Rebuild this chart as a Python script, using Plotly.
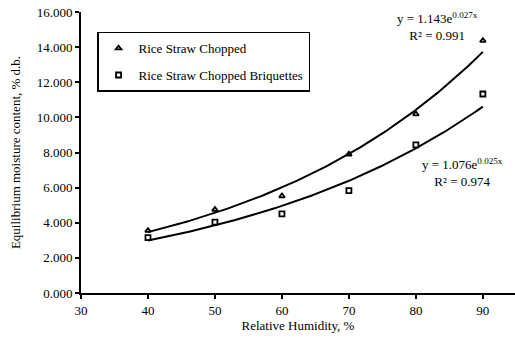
import numpy as np
import plotly.graph_objects as go

rh = [40, 50, 60, 70, 80, 90]
chopped = [3.55, 4.75, 5.52, 7.90, 10.19, 14.37]
briquettes = [3.15, 4.03, 4.50, 5.83, 8.43, 11.33]
series_names = ["Rice Straw Chopped", "Rice Straw Chopped Briquettes"]
eq_texts = ["y = 1.143e<sup>0.027x</sup><br>R² = 0.991", "y = 1.076e<sup>0.025x</sup><br>R² = 0.974"]

FONT = "Liberation Serif, Times New Roman, serif"

def expfit(x, y):
    b, ln_a = np.polyfit(np.array(x, float), np.log(np.array(y, float)), 1)
    xs = np.linspace(min(x), max(x), 120)
    return xs, np.exp(ln_a) * np.exp(b * xs)

fig = go.Figure()
for ys, name, sym, grp in [(chopped, series_names[0], "triangle-up-open", "a"),
                           (briquettes, series_names[1], "square-open", "b")]:
    xs, yf = expfit(rh, ys)
    fig.add_trace(go.Scatter(x=xs, y=yf, mode="lines", line=dict(color="black", width=2),
                             showlegend=False, hoverinfo="skip"))
    fig.add_trace(go.Scatter(x=rh, y=ys, mode="markers", name=name, legendgroup=grp,
                             marker=dict(symbol=sym, size=5, color="black",
                                         line=dict(color="black", width=1.8))))

fig.add_annotation(x=83.3, y=15.2, xref="x", yref="y", text=eq_texts[0], showarrow=False,
                   xanchor="center", yanchor="middle", align="center",
                   font=dict(family=FONT, size=13, color="black"))
fig.add_annotation(x=86.9, y=6.85, xref="x", yref="y", text=eq_texts[1], showarrow=False,
                   xanchor="center", yanchor="middle", align="center",
                   font=dict(family=FONT, size=13, color="black"))

fig.update_layout(
    width=515, height=341,
    margin=dict(l=81, r=0, t=12, b=48),
    paper_bgcolor="white", plot_bgcolor="white",
    font=dict(family=FONT, size=13, color="black"),
    legend=dict(x=0.037, y=0.93, xanchor="left", yanchor="top",
                bordercolor="black", borderwidth=1.5, bgcolor="white",
                tracegroupgap=7, font=dict(family=FONT, size=13, color="black")),
    xaxis=dict(range=[30, 94.8], tickvals=[30, 40, 50, 60, 70, 80, 90],
               showline=True, linecolor="black", linewidth=2, ticks="outside",
               ticklen=4, tickwidth=1.5, tickcolor="black", showgrid=False, zeroline=False,
               title=dict(text="Relative Humidity, %", standoff=2,
                          font=dict(family=FONT, size=13))),
    yaxis=dict(range=[0, 16], tickvals=[0, 2, 4, 6, 8, 10, 12, 14, 16], tickformat=".3f",
               showline=True, linecolor="black", linewidth=2, ticks="outside",
               ticklen=4, tickwidth=1.5, tickcolor="black", showgrid=False, zeroline=False,
               title=dict(text="Equilibrium moisture content, % d.b.", standoff=13,
                          font=dict(family=FONT, size=13))),
)

fig.write_html("out.html")
